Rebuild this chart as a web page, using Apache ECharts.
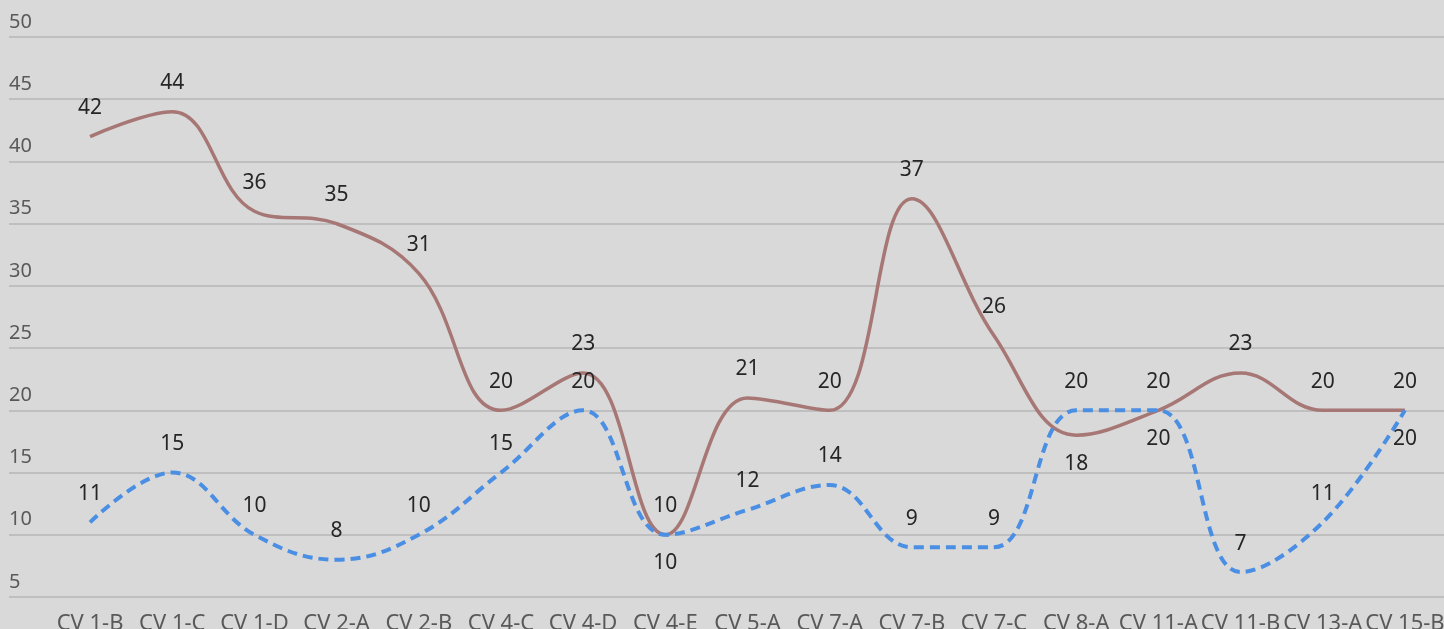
<!DOCTYPE html>
<html>
<head>
<meta charset="utf-8">
<script src="https://cdn.jsdelivr.net/npm/echarts@6/dist/echarts.min.js"></script>
<style>
  html, body { margin: 0; padding: 0; background: #d9d9d9; }
  #chart { width: 1444px; height: 629px; }
</style>
</head>
<body>
<div id="chart"></div>
<script>
var categories = ['CV 1-B', 'CV 1-C', 'CV 1-D', 'CV 2-A', 'CV 2-B', 'CV 4-C', 'CV 4-D', 'CV 4-E', 'CV 5-A',
  'CV 7-A', 'CV 7-B', 'CV 7-C', 'CV 8-A', 'CV 11-A', 'CV 11-B', 'CV 13-A', 'CV 15-B'];
var brownValues = [42, 44, 36, 35, 31, 20, 23, 10, 21, 20, 37, 26, 18, 20, 23, 20, 20];
var blueValues = [11, 15, 10, 8, 10, 15, 20, 10, 12, 14, 9, 9, 20, 20, 7, 11, 20];
// which points get their label under the line
var brownBelow = ['CV 4-E', 'CV 8-A'];
var blueBelow = ['CV 11-A', 'CV 15-B'];

var font = 'Noto Sans';

function withLabels(values, below) {
  return values.map(function (v, i) {
    var d = { value: v };
    if (below.indexOf(categories[i]) >= 0) {
      d.label = { position: 'bottom' };
    }
    return d;
  });
}

var chart = echarts.init(document.getElementById('chart'));

var dataLabel = { show: true, position: 'top', distance: 18, color: '#262626', fontSize: 21, fontFamily: font };

chart.setOption({
  backgroundColor: '#d9d9d9',
  animation: false,
  grid: [
    { left: 9, right: 0, top: 37, bottom: 32, outerBoundsMode: 'none' },
    { left: 49, right: -2, top: 37, bottom: 32, outerBoundsMode: 'none' }
  ],
  xAxis: [
    { gridIndex: 0, type: 'category', data: categories, show: false },
    {
      gridIndex: 1,
      type: 'category',
      data: categories,
      axisLine: { show: false },
      axisTick: { show: false },
      axisLabel: { color: '#595959', fontSize: 22, fontFamily: font, margin: 16, interval: 0 }
    }
  ],
  yAxis: [
    {
      gridIndex: 0,
      type: 'value',
      min: 5,
      max: 50,
      interval: 5,
      axisLine: { show: false },
      axisTick: { show: false },
      splitLine: { lineStyle: { color: '#bfbfbf', width: 2 } },
      axisLabel: {
        inside: true,
        margin: 0,
        align: 'left',
        verticalAlign: 'bottom',
        padding: [0, 0, 5, 0],
        color: '#595959',
        fontSize: 20,
        fontFamily: font
      }
    },
    { gridIndex: 1, type: 'value', min: 5, max: 50, interval: 5, show: false }
  ],
  series: [
    {
      name: 'brown',
      type: 'line',
      xAxisIndex: 1,
      yAxisIndex: 1,
      data: withLabels(brownValues, brownBelow),
      smooth: 0.4,
      symbol: 'circle',
      symbolSize: 0.1,
      showSymbol: true,
      itemStyle: { color: '#a67774' },
      lineStyle: { color: '#a67774', width: 3.5 },
      label: dataLabel
    },
    {
      name: 'blue',
      type: 'line',
      xAxisIndex: 1,
      yAxisIndex: 1,
      data: withLabels(blueValues, blueBelow),
      smooth: 0.4,
      symbol: 'circle',
      symbolSize: 0.1,
      showSymbol: true,
      itemStyle: { color: '#4a8fe3' },
      lineStyle: { color: '#4a8fe3', width: 4, type: [10, 6] },
      label: dataLabel
    }
  ]
});
</script>
</body>
</html>
